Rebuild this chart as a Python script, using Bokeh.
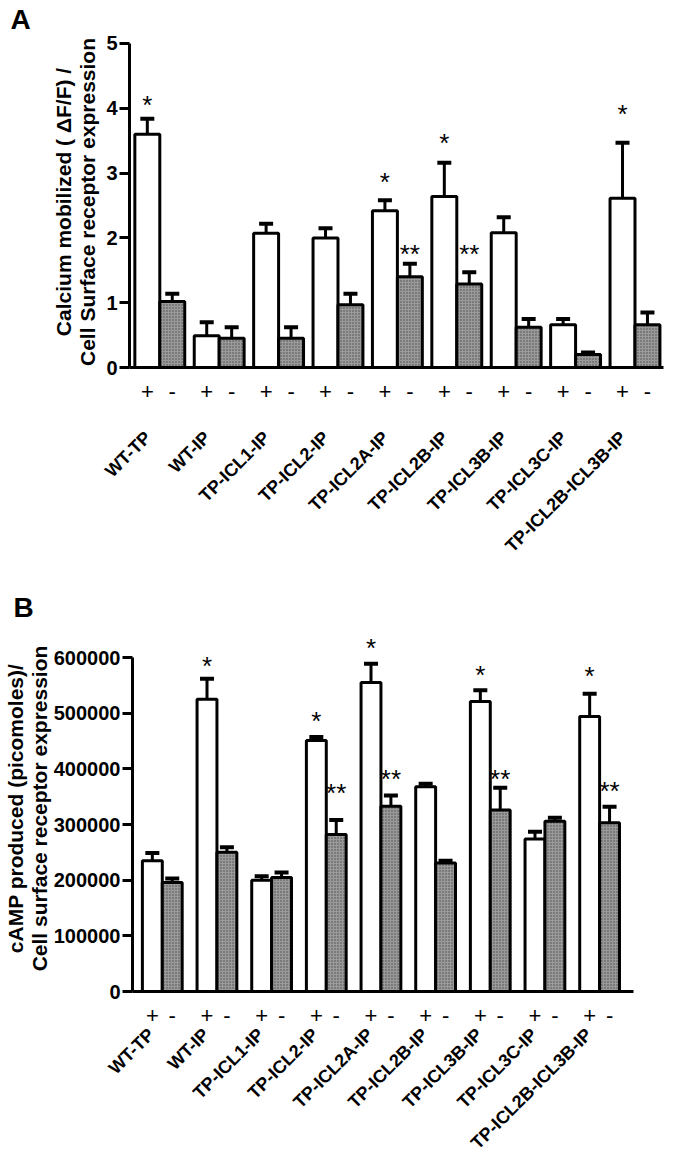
import math
from bokeh.plotting import figure
from bokeh.models import Range1d, FixedTicker, LinearAxis, BasicTickFormatter
from bokeh.core.properties import value
from bokeh.embed import file_html
from bokeh.resources import INLINE

FONT = "Liberation Sans"

groups = ["WT-TP", "WT-IP", "TP-ICL1-IP", "TP-ICL2-IP", "TP-ICL2A-IP",
          "TP-ICL2B-IP", "TP-ICL3B-IP", "TP-ICL3C-IP", "TP-ICL2B-ICL3B-IP"]

# Panel A: calcium mobilized / surface expression
calcium_plus = [3.60, 0.49, 2.07, 2.00, 2.42, 2.64, 2.08, 0.66, 2.61]
calcium_plus_sem = [0.24, 0.21, 0.15, 0.15, 0.16, 0.52, 0.24, 0.09, 0.86]
calcium_minus = [1.02, 0.45, 0.45, 0.97, 1.40, 1.29, 0.62, 0.20, 0.66]
calcium_minus_sem = [0.12, 0.17, 0.17, 0.17, 0.20, 0.18, 0.13, 0.03, 0.19]
calcium_star_group = [0, 4, 5, 8, 4, 5]
calcium_star_side = ["+", "+", "+", "+", "-", "-"]
calcium_star_y = [4.14, 2.96, 3.56, 4.01, 1.85, 1.85]
calcium_star_text = ["*", "*", "*", "*", "**", "**"]
calcium_ticks = [0, 1, 2, 3, 4, 5]

# Panel B: cAMP produced / surface expression
camp_plus = [235000, 525000, 200000, 451000, 555000, 368000, 521000, 274000, 494000]
camp_plus_sem = [14000, 37000, 7000, 6000, 34000, 5000, 20000, 13000, 41000]
camp_minus = [196000, 250000, 205000, 282000, 333000, 231000, 326000, 306000, 303000]
camp_minus_sem = [7000, 9000, 9000, 26000, 19000, 4000, 40000, 6000, 29000]
camp_star_group = [1, 3, 4, 6, 8, 3, 4, 6, 8]
camp_star_side = ["+", "+", "+", "+", "+", "-", "-", "-", "-"]
camp_star_y = [594700, 496000, 627000, 580000, 577000, 367000, 392000, 392000, 371000]
camp_star_text = ["*", "*", "*", "*", "*", "**", "**", "**", "**"]
camp_ticks = [0, 100000, 200000, 300000, 400000, 500000, 600000]


def panel(letter, ylab, plus, plus_sem, minus, minus_sem, st_g, st_s, st_y, st_t,
          yticks, y_end, x_start, x_end, half, height, top, bottom, right,
          group_standoff, ylab_standoff, title_valign, title_standoff, sci_off=False):
    p = figure(width=664, height=height, x_range=Range1d(x_start, x_end),
               y_range=Range1d(0, y_end), output_backend="svg", toolbar_location=None,
               min_border_left=129, min_border_right=right, min_border_top=top,
               min_border_bottom=bottom)
    p.outline_line_color = None
    p.xgrid.grid_line_color = None
    p.ygrid.grid_line_color = None
    p.background_fill_color = "white"

    p.title.text = letter
    p.title.text_font = FONT
    p.title.text_font_size = "28px"
    p.title.text_font_style = "bold"
    p.title.text_color = "black"
    p.title.align = "left"
    p.title.offset = -119
    p.title.vertical_align = title_valign
    p.title.standoff = title_standoff

    idx = list(range(len(groups)))
    xp = [i - half for i in idx]
    xm = [i + half for i in idx]
    p.vbar(x=xp, top=plus, width=2 * half, fill_color="white",
           line_color="black", line_width=3)
    p.vbar(x=xm, top=minus, width=2 * half, fill_color="#9a9a9a",
           hatch_pattern="dot", hatch_color="#4a4a4a", hatch_scale=3, hatch_weight=1.5,
           line_color="black", line_width=3)

    xe = xp + xm
    ylo = list(plus) + list(minus)
    yhi = [v + e for v, e in zip(plus, plus_sem)] + [v + e for v, e in zip(minus, minus_sem)]
    p.segment(x0=xe, y0=ylo, x1=xe, y1=yhi, line_color="black", line_width=3)
    p.scatter(x=xe, y=yhi, marker="dash", size=14, line_color="black", line_width=4)

    sx = [g - half if s == "+" else g + half for g, s in zip(st_g, st_s)]
    p.text(x=sx, y=st_y, text=st_t, text_align="center", text_baseline="middle",
           text_font=value(FONT), text_font_size="26px", text_color="black", y_offset=6)

    # x axis: +/- labels
    xa = p.xaxis[0]
    xa.ticker = FixedTicker(ticks=xe)
    xa.major_label_overrides = {**{x: "+" for x in xp}, **{x: "-" for x in xm}}
    xa.axis_line_width = 3
    xa.axis_line_color = "black"
    xa.major_tick_line_color = None
    xa.minor_tick_line_color = None
    xa.major_label_text_font = FONT
    xa.major_label_text_font_size = "22px"
    xa.major_label_text_color = "black"
    xa.major_label_text_line_height = 0.8
    xa.major_label_standoff = 10

    # second x axis: construct names
    gt = [i - 0.2 for i in idx]
    ga = LinearAxis(ticker=FixedTicker(ticks=gt),
                    major_label_overrides={t: n for t, n in zip(gt, groups)},
                    major_label_orientation=math.pi / 4,
                    axis_line_color=None, major_tick_line_color=None,
                    minor_tick_line_color=None,
                    major_label_text_font=FONT, major_label_text_font_size="18px",
                    major_label_text_font_style="bold", major_label_text_color="black",
                    major_label_text_line_height=0.8,
                    major_label_standoff=group_standoff)
    p.add_layout(ga, "below")

    ya = p.yaxis[0]
    ya.ticker = FixedTicker(ticks=yticks)
    ya.bounds = (yticks[0], yticks[-1])
    if sci_off:
        ya.formatter = BasicTickFormatter(use_scientific=False)
    ya.axis_line_width = 3
    ya.axis_line_color = "black"
    ya.major_tick_line_width = 3
    ya.major_tick_line_color = "black"
    ya.major_tick_out = 10
    ya.major_tick_in = 0
    ya.minor_tick_line_color = None
    ya.major_label_text_font = FONT
    ya.major_label_text_font_size = "20px"
    ya.major_label_text_font_style = "bold"
    ya.major_label_text_color = "black"
    ya.major_label_standoff = 2
    ya.axis_label = ylab
    ya.axis_label_text_font = FONT
    ya.axis_label_text_font_size = "21px"
    ya.axis_label_text_font_style = "bold"
    ya.axis_label_text_color = "black"
    ya.axis_label_text_line_height = 1.05
    ya.axis_label_standoff = ylab_standoff
    return p


pA = panel("A", "Calcium mobilized ( \u0394F/F) /\nCell Surface receptor expression",
           calcium_plus, calcium_plus_sem, calcium_minus, calcium_minus_sem,
           calcium_star_group, calcium_star_side, calcium_star_y, calcium_star_text,
           calcium_ticks, 5.108, -0.51, 8.48, 0.21, 566, 36, 199, 1,
           27, 4, "top", 0)

pB = panel("B", "cAMP produced (picomoles)/\nCell surface receptor expression",
           camp_plus, camp_plus_sem, camp_minus, camp_minus_sem,
           camp_star_group, camp_star_side, camp_star_y, camp_star_text,
           camp_ticks, 657500, -0.545, 8.62, 0.182, 597, 59, 172, 31,
           0, 0, "bottom", 6, sci_off=True)

open("out.html", "w").write(file_html([pA, pB], INLINE))
